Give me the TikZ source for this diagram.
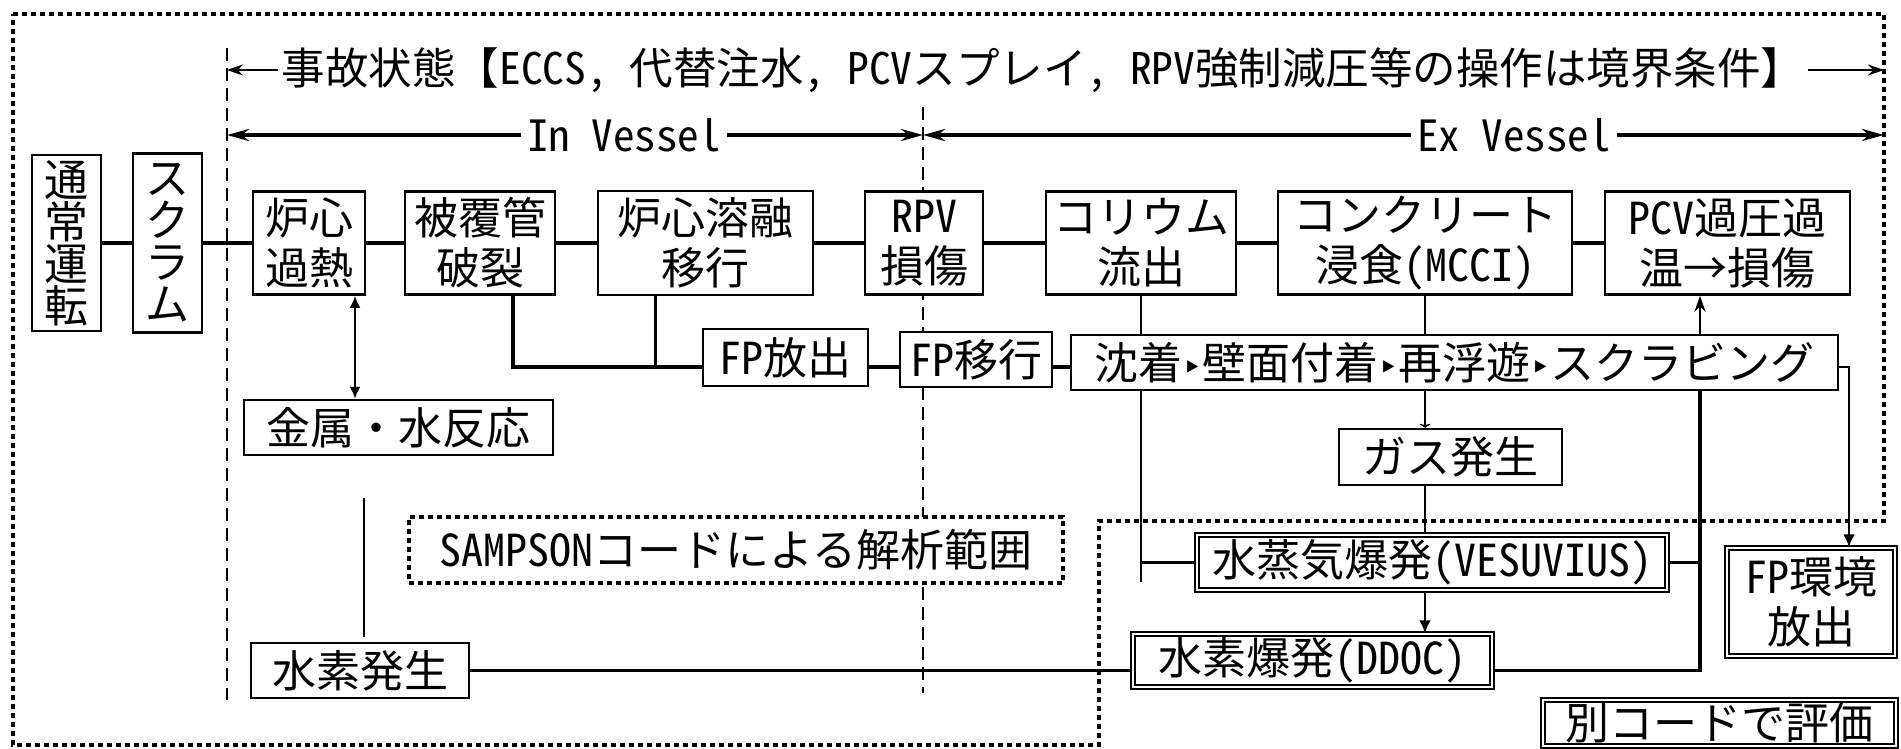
\documentclass[tikz,border=0pt]{standalone}
\usepackage{fontspec}
\setmainfont{Noto Sans CJK JP}
\newfontfamily\hwfont[CharacterWidth=Half]{Noto Sans CJK JP}
\newfontfamily\djv{DejaVu Sans}
\newcommand{\hw}[1]{{\hwfont #1}}
\newcommand{\tri}{{\djv\fontsize{34pt}{34pt}\selectfont ‣}}
\usetikzlibrary{arrows.meta}
\tikzset{
  bx/.style={draw, line width=2.5pt, fill=white, inner sep=0pt, align=center,
    font=\fontsize{44pt}{50pt}\selectfont},
  vbx/.style={bx, font=\fontsize{44pt}{42pt}\selectfont},
  dbx/.style={bx, line width=1.4pt, double, double distance=2.5pt},
  dotbx/.style={draw, line width=4.5pt, dash pattern=on 5pt off 4pt, fill=white, inner sep=0pt,
    font=\fontsize{44pt}{50pt}\selectfont},
  mainc/.style={line width=3.5pt},
  thinc/.style={line width=2.6pt},
  dsh/.style={line width=2pt, dash pattern=on 13pt off 7pt},
  dotb/.style={line width=4.5pt, dash pattern=on 5pt off 4pt},
  tarr/.style={line width=2.4pt, -{Stealth[length=16pt,width=11pt]}},
  varr/.style={line width=3.4pt, -{Stealth[length=22pt,width=12pt]}},
  farr/.style={-{Latex[length=13pt,width=12pt]}},
  lbl/.style={inner sep=6pt, font=\fontsize{43pt}{50pt}\selectfont},
}
\begin{document}
\begin{tikzpicture}[x=1pt,y=-1pt]
\useasboundingbox (0,0) rectangle (1901,748);
\fill[white] (0,0) rectangle (1901,748);
% guide coordinates
\coordinate (d1t) at (227,48);
\coordinate (d1b) at (227,700);
\coordinate (d2t) at (923,107);
\coordinate (d2b) at (923,693);
\coordinate (rb) at (1884,0);
\coordinate (fpl) at (0,367);
\coordinate (px) at (1700,0);
\coordinate (cend) at (1143,582);
% dashed phase lines and outer dotted border
\draw[dsh] (d1t) -- (d1b);
\draw[dsh] (d2t) -- (d2b);
\draw[dotb] (13,14) -- (1884,14) -- (1884,521) -- (1099,521) -- (1099,745) -- (13,745) -- cycle;
% headers
\node[lbl, inner sep=4pt, font=\fontsize{43.5pt}{50pt}\selectfont] (title) at (1043,70) {事故状態【\hw{ECCS, }代替注水\hw{, PCV}スプレイ\hw{, RPV}強制減圧等の操作は境界条件】};
\node[lbl] (inv) at (624,135) {\hw{In Vessel}};
\node[lbl] (exv) at (1514,135) {\hw{Ex Vessel}};
\draw[tarr] (title.west) -- (title.west -| d1t);
\draw[tarr] (title.east) -- (title.east -| rb);
\draw[varr] (inv.west) -- (inv.west -| d1t);
\draw[varr] (inv.east) -- (inv.east -| d2t);
\draw[varr] (exv.west) -- (exv.west -| d2t);
\draw[varr] (exv.east) -- (exv.east -| rb);
% main row
\node[vbx, minimum width=69pt, minimum height=176pt] (tsujo) at (66.5,243) {通\\常\\運\\転};
\node[vbx, minimum width=69pt, minimum height=179pt] (scram) at (167.5,243) {ス\\ク\\ラ\\ム};
\node[bx, minimum width=112pt, minimum height=103pt] (kanetsu) at (309,243) {炉心\\過熱};
\node[bx, minimum width=150pt, minimum height=103pt] (hifuku) at (480,243) {被覆管\\破裂};
\node[bx, minimum width=215pt, minimum height=104pt] (yoyu) at (705.5,243) {炉心溶融\\移行};
\node[bx, minimum width=118pt, minimum height=103pt] (rpv) at (924,243) {\hw{RPV}\\損傷};
\node[bx, minimum width=190pt, minimum height=103pt] (corium) at (1141,243) {コリウム\\流出};
\node[bx, minimum width=294pt, minimum height=103pt] (mcci) at (1425,243) {コンクリート\\浸食\hw{(MCCI)}};
\node[bx, minimum width=245pt, minimum height=103pt] (pcv) at (1727.5,243) {\hw{PCV}過圧過\\温→損傷};
% other boxes
\node[bx, minimum width=309pt, minimum height=55pt] (kinzoku) at (398.5,427.5) {金属・水反応};
\node[bx, minimum width=165pt, minimum height=57pt] (fph) at (785.5,357.5) {\hw{FP}放出};
\node[bx, minimum width=152pt, minimum height=55pt] (fpi) at (976,359.5) {\hw{FP}移行};
\node[bx, minimum width=767pt, minimum height=55pt] (chin) at (1454.5,362.5) {沈着\tri 壁面付着\tri 再浮遊\tri スクラビング};
\node[bx, minimum width=223pt, minimum height=56pt] (gas) at (1450.5,457) {ガス発生};
\node[dbx, minimum width=470pt, minimum height=55pt] (steam) at (1432,562.5) {水蒸気爆発\hw{(VESUVIUS)}};
\node[dbx, minimum width=359pt, minimum height=53pt] (h2exp) at (1312.5,660.5) {水素爆発\hw{(DDOC)}};
\node[bx, minimum width=218pt, minimum height=55pt] (h2gen) at (360,670.5) {水素発生};
\node[dbx, minimum width=168pt, minimum height=108pt] (fpenv) at (1811,602) {\hw{FP}環境\\放出};
\node[dbx, minimum width=353pt, minimum height=46pt] (betsu) at (1719.5,723) {別コードで評価};
\node[dotbx, minimum width=654pt, minimum height=66pt] (sampson) at (736,550) {\hw{SAMPSON}コードによる解析範囲};
% connectors
\draw[mainc] (tsujo) -- (scram) -- (kanetsu) -- (hifuku) -- (yoyu) -- (rpv) -- (corium) -- (mcci) -- (pcv);
\draw[thinc, {Latex[length=12pt,width=11pt]}-{Latex[length=12pt,width=11pt]}] ([xshift=46pt]kanetsu.south) -- ([xshift=46pt]kanetsu.south |- kinzoku.north);
\draw[thinc, shorten <=42pt, shorten >=5pt] ([xshift=4pt]h2gen.north |- kinzoku.south) -- ([xshift=4pt]h2gen.north);
\draw[mainc] ([xshift=33pt]hifuku.south) |- (fph.west |- fpl);
\draw[thinc] ([xshift=-50pt]yoyu.south) -- ([xshift=-50pt]yoyu.south |- fpl);
\draw[mainc] (fph.east |- fpl) -- (fpi.west |- fpl);
\draw[mainc] (fpi.east |- fpl) -- (chin.west |- fpl);
\draw[thinc] (corium.south) -- (corium.south |- chin.north);
\draw[thinc] (corium.south |- chin.south) -- (corium.south |- cend);
\draw[mainc] (corium.south |- steam.west) -- (steam.west);
\draw[thinc] (mcci.south) -- (mcci.south |- chin.north);
\draw[thinc, -{Stealth[length=4pt,width=12pt]}] (mcci.south |- chin.south) -- (mcci.south |- gas.north);
\draw[thinc] (mcci.south |- gas.south) -- (mcci.south |- steam.north);
\draw[thinc, farr] (mcci.south |- steam.south) -- (mcci.south |- h2exp.north);
\draw[mainc] (h2gen.east) -- (h2gen.east -| h2exp.west);
\draw[mainc] (h2exp.east |- h2gen.east) -| (px |- chin.south);
\draw[mainc] (steam.east) -- (steam.east -| px);
\draw[thinc, -{Stealth[length=16pt,width=11pt]}] (px |- chin.north) -- (px |- pcv.south);
\draw[thinc, farr] (chin.east |- fpl) -| ([xshift=38pt]fpenv.north);
\end{tikzpicture}
\end{document}
